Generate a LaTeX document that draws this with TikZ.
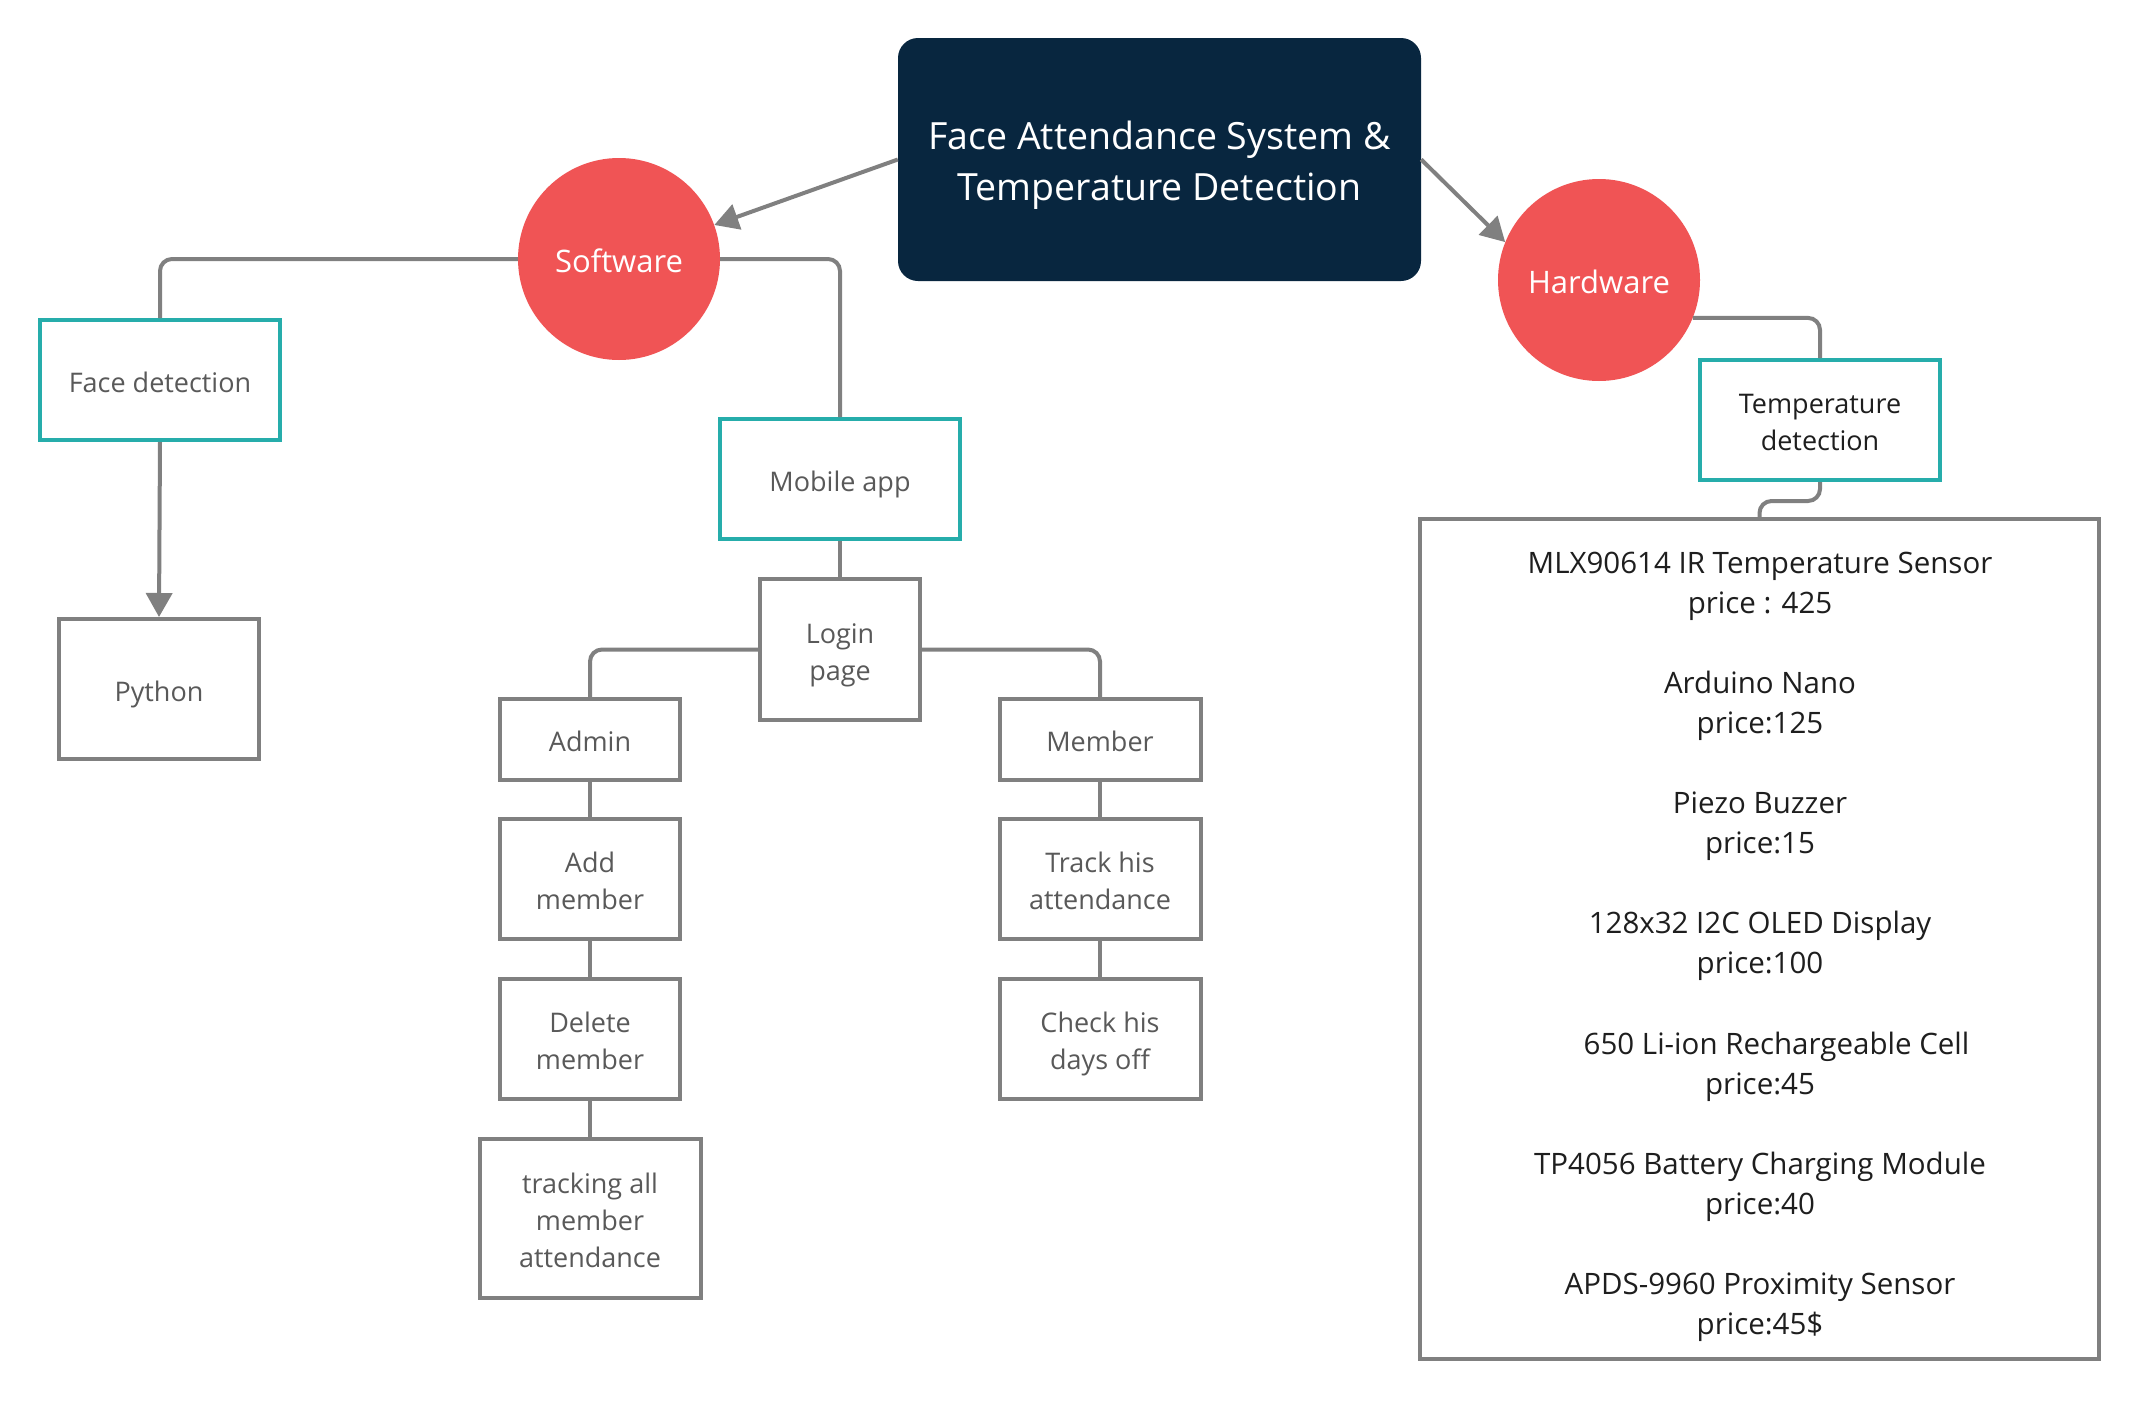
\documentclass[tikz,border=0pt]{standalone}
\usepackage{fontspec}
\setmainfont{Open Sans}
\usetikzlibrary{arrows.meta}
\definecolor{navyc}{HTML}{08263F}
\definecolor{redc}{HTML}{F05455}
\definecolor{tealc}{HTML}{26ADAB}
\definecolor{linegray}{HTML}{808080}
\definecolor{textgray}{HTML}{595959}
\definecolor{textdark}{HTML}{1E1E1E}
% single-line struts (used outside the text box)
\newcommand\bxs{\vrule height 31pt depth 7pt width 0pt}
\newcommand\ccs{\vrule height 33pt depth 7pt width 0pt}
% multi-line struts: top (height only) and bottom (depth only)
\newcommand\bxt{\vrule height 31pt depth 0pt width 0pt}
\newcommand\bxb{\vrule height 0pt depth 7pt width 0pt}
\newcommand\ttt{\vrule height 44pt depth 0pt width 0pt}
\newcommand\ttb{\vrule height 0pt depth 13pt width 0pt}
\newcommand\ppt{\vrule height 33pt depth 0pt width 0pt}
\newcommand\ppb{\vrule height 0pt depth 7pt width 0pt}
\tikzset{
  gbox/.style={draw=linegray, line width=4pt, fill=white, inner sep=0pt, align=center,
    text=textgray, font=\fontsize{27}{37}\selectfont,
    execute at begin node=\bxs, execute at end node=\bxs},
  tbox/.style={gbox, draw=tealc},
  circ/.style={circle, fill=redc, minimum size=202pt, inner sep=0pt, text=white,
    font=\fontsize{31}{37}\selectfont,
    execute at begin node=\ccs, execute at end node=\ccs},
  titlebox/.style={fill=navyc, rounded corners=20pt, minimum width=523pt, minimum height=243pt,
    text=white, align=center, font=\fontsize{37.5}{50.5}\selectfont},
  conn/.style={draw=linegray, line width=4pt, rounded corners=12pt},
  arr/.style={draw=linegray, line width=4pt, -{Triangle[length=24pt,width=26pt]}},
  ptext/.style={align=center, text=textdark, font=\fontsize{29.5}{40}\selectfont, inner sep=0pt}
}
\begin{document}
\begin{tikzpicture}[x=1pt,y=-1pt]
\useasboundingbox[fill=white] (0,0) rectangle (2141,1400);

\node[titlebox] (title) at (1159.5,159.5) {\ttt Face Attendance System \&\\Temperature Detection\ttb};
\node[circ] (soft) at (619,259) {Software};
\node[circ] (hw) at (1599,280) {Hardware};

\node[tbox, minimum width=240pt, minimum height=120pt] (face) at (160,380) {Face detection};
\node[gbox, minimum width=200pt, minimum height=140pt] (python) at (159,689) {Python};
\node[tbox, minimum width=240pt, minimum height=120pt] (mobile) at (840,479) {Mobile app};
\node[gbox, minimum width=160pt, minimum height=141pt] (login) at (840,649.5) {\bxt Login\\page\bxb};

\node[gbox, minimum width=180pt, minimum height=81pt] (admin) at (590,739.5) {Admin};
\node[gbox, minimum width=180pt, minimum height=120pt] (addm) at (590,879) {\bxt Add\\member\bxb};
\node[gbox, minimum width=180pt, minimum height=120pt] (delm) at (590,1039) {\bxt Delete\\member\bxb};
\node[gbox, minimum width=221pt, minimum height=159pt] (trall) at (590,1218.5) {\bxt tracking all\\member\\attendance\bxb};

\node[gbox, minimum width=201pt, minimum height=81pt] (member) at (1100,739.5) {Member};
\node[gbox, minimum width=201pt, minimum height=120pt] (trhis) at (1100,879) {\bxt Track his\\attendance\bxb};
\node[gbox, minimum width=201pt, minimum height=120pt] (check) at (1100,1039) {\bxt Check his\\days off\bxb};

\node[tbox, minimum width=240pt, minimum height=120pt, text=textdark] (temp) at (1820,420) {\bxt Temperature\\detection\bxb};
\node[gbox, minimum width=679pt, minimum height=840pt] (big) at (1759.5,939) {};

\node[ptext] (p1) at (1760,581) {\ppt MLX90614 IR Temperature Sensor\\price : 425\ppb};
\node[ptext] (p2) at (1760,701) {\ppt Arduino Nano\\price:125\ppb};
\node[ptext] (p3) at (1760,821) {\ppt Piezo Buzzer\\price:15\ppb};
\node[ptext] (p4) at (1760,941) {\ppt 128x32 I2C OLED Display\\price:100\ppb};
\node[ptext] (p5) at (1760,1062) {\ppt\hspace*{33pt}650 Li-ion Rechargeable Cell\\price:45\ppb};
\node[ptext] (p6) at (1760,1182) {\ppt TP4056 Battery Charging Module\\price:40\ppb};
\node[ptext] (p7) at (1760,1302) {\ppt APDS-9960 Proximity Sensor\\price:45\$\ppb};

% connectors
\draw[arr] (title.west) -- (soft);
\draw[arr] (title.east) -- (hw.158);
\draw[conn] (soft.west) -| (face.north);
\draw[conn] (soft.east) -| (mobile.north);
\draw[arr] (face.south) -- (python.north);
\draw[conn] (mobile.south) -- (login.north);
\draw[conn] (login.west) -| (admin.north);
\draw[conn] (login.east) -| (member.north);
\draw[conn] (admin.south) -- (addm.north);
\draw[conn] (addm.south) -- (delm.north);
\draw[conn] (delm.south) -- (trall.north);
\draw[conn] (member.south) -- (trhis.north);
\draw[conn] (trhis.south) -- (check.north);
\draw[conn] (hw.-22) -| (temp.north);
\draw[conn] (temp.south) -- ++(0,19) -| (big.north);
\end{tikzpicture}
\end{document}
